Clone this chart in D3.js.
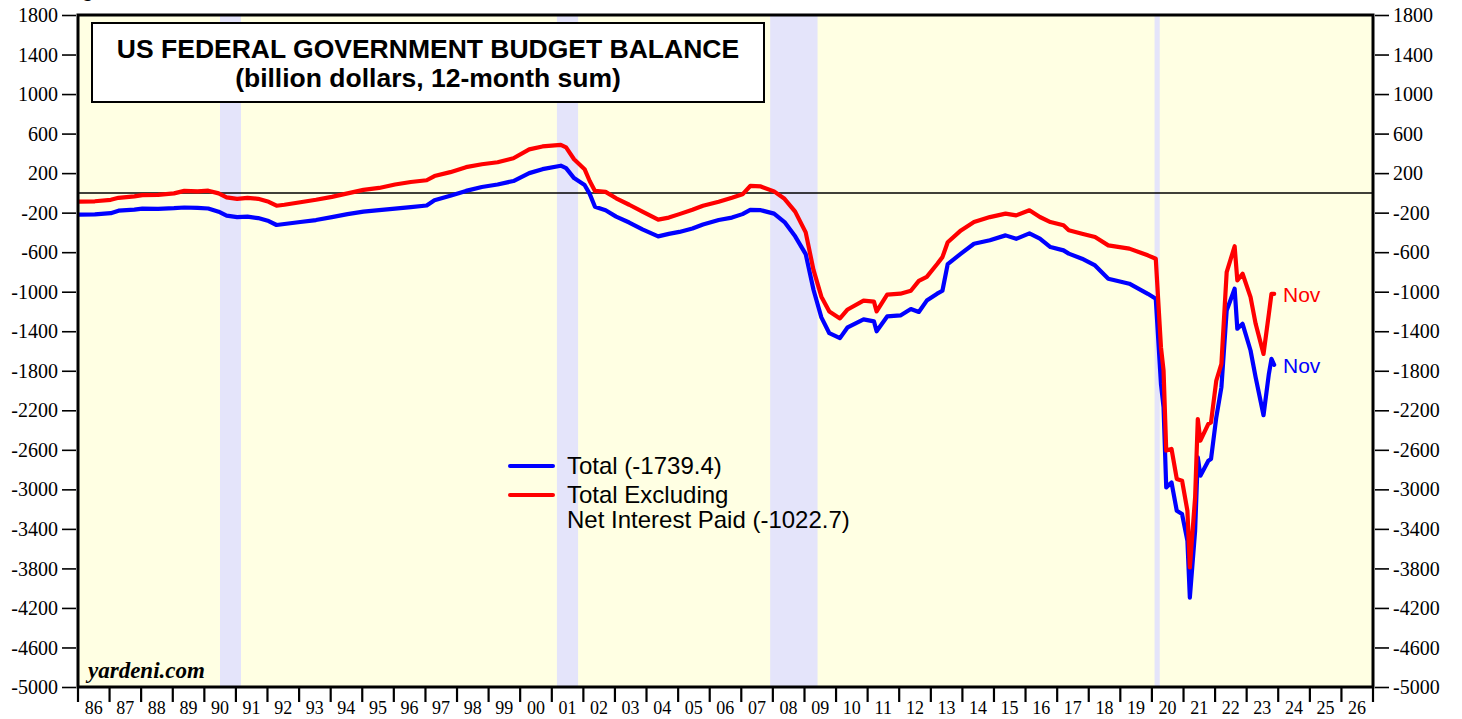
<!DOCTYPE html>
<html>
<head>
<meta charset="utf-8">
<script src="https://cdn.jsdelivr.net/npm/d3@7"></script>
<style>
  body { margin: 0; background: #fff; }
  svg { display: block; }
</style>
</head>
<body>
<div id="chart"></div>
<script>
// monthly readings (12-month sums, billion $)
const months = [
  "1986-01","1986-07","1987-01","1987-04","1987-10","1988-01","1988-07","1989-01","1989-05","1989-10",
  "1990-02","1990-06","1990-09","1991-01","1991-05","1991-09","1992-01","1992-04","1992-07","1993-01",
  "1993-07","1994-01","1994-07","1995-01","1995-07","1996-01","1996-07","1997-01","1997-04","1997-10",
  "1998-04","1998-10","1999-04","1999-10","2000-04","2000-09","2001-04","2001-06","2001-09","2002-01",
  "2002-03","2002-05","2002-09","2003-01","2003-06","2003-11","2004-05","2004-09","2005-01","2005-06",
  "2005-10","2006-04","2006-09","2007-01","2007-04","2007-08","2008-01","2008-05","2008-09","2009-01",
  "2009-04","2009-07","2009-10","2010-02","2010-05","2010-11","2011-03","2011-04","2011-08","2012-01",
  "2012-05","2012-08","2012-11","2013-03","2013-05","2013-07","2013-12","2014-05","2014-11","2015-05",
  "2015-09","2016-02","2016-06","2016-10","2017-03","2017-05","2017-10","2018-03","2018-08","2019-04",
  "2019-11","2020-02","2020-04","2020-05","2020-06","2020-08","2020-10","2020-12","2021-02","2021-03",
  "2021-05","2021-06","2021-07","2021-10","2021-11","2022-01","2022-03","2022-05","2022-08","2022-09",
  "2022-11","2023-02","2023-04","2023-07","2023-09","2023-10","2023-11"
];
const total = [
  -220,-218,-205,-180,-170,-160,-162,-155,-148,-152,
  -158,-190,-230,-245,-240,-255,-285,-325,-315,-295,
  -275,-245,-215,-190,-175,-160,-145,-128,-75,-30,
  20,60,85,120,200,240,275,250,150,80,
  -10,-140,-175,-240,-300,-370,-440,-415,-395,-360,
  -320,-275,-250,-215,-172,-175,-210,-295,-440,-620,
  -980,-1260,-1420,-1470,-1360,-1280,-1300,-1400,-1250,-1240,
  -1175,-1205,-1090,-1020,-990,-720,-615,-515,-480,-430,
  -465,-410,-463,-548,-582,-615,-666,-734,-869,-919,
  -1021,-1072,-1933,-2170,-2980,-2930,-3217,-3250,-3521,-4095,
  -3419,-2676,-2862,-2710,-2693,-2271,-1967,-1190,-970,-1375,
  -1325,-1595,-1866,-2250,-1831,-1679,-1739.4
];
const exInterest = [
  -88,-85,-70,-50,-35,-22,-20,-5,20,15,
  22,-5,-45,-60,-50,-60,-90,-130,-120,-95,
  -70,-40,-5,30,50,85,110,128,170,210,
  260,290,310,350,440,470,485,460,340,240,
  120,20,10,-55,-120,-190,-270,-250,-215,-170,
  -130,-90,-50,-15,70,65,15,-60,-190,-400,
  -780,-1050,-1200,-1270,-1180,-1090,-1100,-1200,-1030,-1020,
  -990,-890,-850,-720,-650,-500,-380,-295,-245,-210,
  -228,-176,-244,-295,-328,-379,-413,-447,-531,-564,
  -632,-666,-1562,-1798,-2608,-2591,-2895,-2912,-3217,-3791,
  -3082,-2288,-2507,-2338,-2322,-1899,-1730,-802,-540,-886,
  -818,-1055,-1325,-1629,-1224,-1021,-1022.7
];
const recessionStart = ["1990-07","2001-03","2007-12","2020-02"];
const recessionEnd   = ["1991-03","2001-11","2009-06","2020-04"];
const yTicks = d3.range(-5000, 1801, 400);
const years = d3.range(1986, 2027);

const W = 1462, H = 719;
const pL = 78, pR = 1373, pT = 15, pB = 687;

const parse = d3.timeParse("%Y-%m");
const mid = s => d3.timeDay.offset(parse(s), 14);

const x = d3.scaleTime()
  .domain([new Date(1986, 0, 1), new Date(2027, 0, 1)])
  .range([pL, pR]);
const y = d3.scaleLinear().domain([-5000, 1800]).range([pB, pT]);

const svg = d3.select("#chart").append("svg")
  .attr("width", W).attr("height", H);

// heading above the chart, cut by the top edge as in the source
svg.append("text")
  .attr("x", 64).attr("y", -3)
  .style("font", "bold 20px 'Liberation Sans', Arial, sans-serif")
  .text("Figure 1.");

// plot background + recession shading
svg.append("rect")
  .attr("x", pL).attr("y", pT)
  .attr("width", pR - pL).attr("height", pB - pT)
  .attr("fill", "#ffffe3");

svg.selectAll(".rec").data(recessionStart).enter().append("rect")
  .attr("class", "rec")
  .attr("x", d => x(parse(d)))
  .attr("y", pT)
  .attr("width", (d, i) => x(parse(recessionEnd[i])) - x(parse(d)))
  .attr("height", pB - pT)
  .attr("fill", "#e4e4fa");

// zero line
svg.append("line")
  .attr("x1", pL).attr("x2", pR)
  .attr("y1", y(0)).attr("y2", y(0))
  .attr("stroke", "#000").attr("stroke-width", 1.5);

// y axes (plain hyphen for negatives, like the source)
const yFont = "20px 'Liberation Serif', 'Times New Roman', serif";
const xFont = "18px 'Liberation Serif', 'Times New Roman', serif";
const yl = svg.append("g").attr("transform", `translate(${pL - 2},0)`)
  .call(d3.axisLeft(y).tickValues(yTicks).tickSize(14).tickPadding(4).tickFormat(d => String(d)));
const yr = svg.append("g").attr("transform", `translate(${pR + 2},0)`)
  .call(d3.axisRight(y).tickValues(yTicks).tickSize(14).tickPadding(4).tickFormat(d => String(d)));
[yl, yr].forEach(g => {
  g.attr("font-family", null).attr("font-size", null);
  g.select(".domain").remove();
  g.selectAll(".tick line").attr("stroke", "#000").attr("stroke-width", 1.6);
  g.selectAll(".tick text").style("font", yFont).attr("fill", "#000").attr("dy", "0.33em");
});

// x axis: ticks at year starts, labels centred in each year
const xg = svg.append("g").attr("transform", `translate(0,${pB + 1})`);
xg.selectAll("line").data(years.concat([2027])).enter().append("line")
  .attr("x1", d => x(new Date(d, 0, 1))).attr("x2", d => x(new Date(d, 0, 1)))
  .attr("y1", 0).attr("y2", 14)
  .attr("stroke", "#000").attr("stroke-width", 2.2);
xg.selectAll("text").data(years).enter().append("text")
  .attr("x", d => x(new Date(d, 6, 1)))
  .attr("y", 26)
  .attr("text-anchor", "middle")
  .style("font", xFont)
  .text(d => String(d % 100).padStart(2, "0"));

// series
const line = d3.line()
  .x((d, i) => x(mid(months[i])))
  .y(d => y(d));

svg.append("path").datum(total)
  .attr("d", line).attr("fill", "none")
  .attr("stroke", "#0000ff").attr("stroke-width", 4.2)
  .attr("stroke-linejoin", "round").attr("stroke-linecap", "round");
svg.append("path").datum(exInterest)
  .attr("d", line).attr("fill", "none")
  .attr("stroke", "#ff0000").attr("stroke-width", 4.2)
  .attr("stroke-linejoin", "round").attr("stroke-linecap", "round");

// plot frame
svg.append("rect")
  .attr("x", pL).attr("y", pT)
  .attr("width", pR - pL).attr("height", pB - pT)
  .attr("fill", "none").attr("stroke", "#000").attr("stroke-width", 3);

// title box
svg.append("rect")
  .attr("x", 92).attr("y", 23).attr("width", 672).attr("height", 79)
  .attr("fill", "#fff").attr("stroke", "#000").attr("stroke-width", 2);
const titleFont = "bold 26.5px 'Liberation Sans', Arial, sans-serif";
svg.append("text").attr("x", 428).attr("y", 58).attr("text-anchor", "middle")
  .style("font", titleFont).text("US FEDERAL GOVERNMENT BUDGET BALANCE");
svg.append("text").attr("x", 428).attr("y", 87).attr("text-anchor", "middle")
  .style("font", titleFont).text("(billion dollars, 12-month sum)");

// legend
const legFont = "24px 'Liberation Sans', Arial, sans-serif";
svg.append("line").attr("x1", 510).attr("x2", 553).attr("y1", 466).attr("y2", 466)
  .attr("stroke", "#0000ff").attr("stroke-width", 4).attr("stroke-linecap", "round");
svg.append("line").attr("x1", 510).attr("x2", 553).attr("y1", 495).attr("y2", 495)
  .attr("stroke", "#ff0000").attr("stroke-width", 4).attr("stroke-linecap", "round");
svg.append("text").attr("x", 567).attr("y", 474).style("font", legFont).text("Total (-1739.4)");
svg.append("text").attr("x", 567).attr("y", 503).style("font", legFont).text("Total Excluding");
svg.append("text").attr("x", 567).attr("y", 528).style("font", legFont).text("Net Interest Paid (-1022.7)");

// end labels
const endFont = "21px 'Liberation Sans', Arial, sans-serif";
svg.append("text").attr("x", 1283).attr("y", 302).attr("fill", "#ff0000")
  .style("font", endFont).text("Nov");
svg.append("text").attr("x", 1283).attr("y", 373).attr("fill", "#0000ff")
  .style("font", endFont).text("Nov");

// source
svg.append("text").attr("x", 88).attr("y", 678)
  .style("font", "italic bold 23px 'Liberation Serif', 'Times New Roman', serif")
  .text("yardeni.com");
</script>
</body>
</html>
